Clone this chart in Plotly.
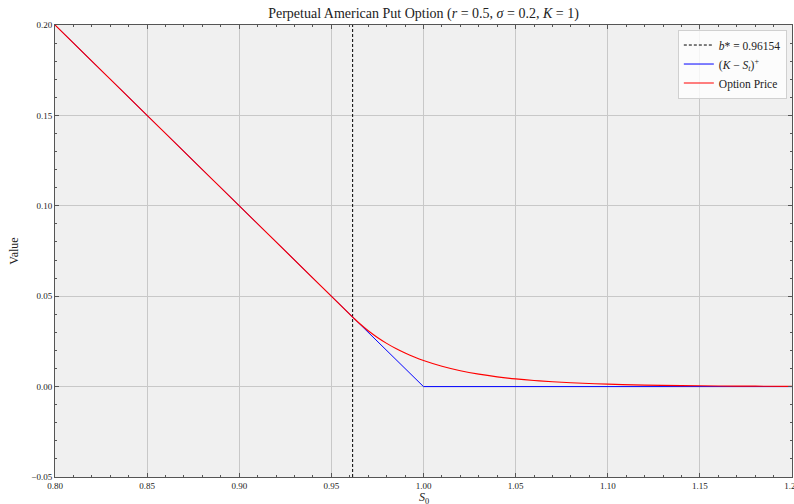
import plotly.graph_objects as go

# Data
b_star = 0.96154
payoff_s = [0.80, 1.00, 1.20]
payoff_v = [0.20, 0.00, 0.00]
price_s = [0.80, 0.96154, 0.965, 0.97, 0.975, 0.98, 0.985, 0.99, 0.995, 1.00, 1.01, 1.02,
           1.03, 1.04, 1.05, 1.06, 1.07, 1.08, 1.10, 1.12, 1.14, 1.16, 1.18, 1.20]
price_v = [0.20, 0.03846, 0.035157, 0.030896, 0.027170, 0.023908, 0.021052, 0.018549,
           0.016353, 0.014427, 0.011251, 0.008794, 0.006891, 0.005412, 0.004261, 0.003362,
           0.002658, 0.002107, 0.001332, 0.000849, 0.000545, 0.000353, 0.000230, 0.000151]
x_ticks = [0.80, 0.85, 0.90, 0.95, 1.00, 1.05, 1.10, 1.15, 1.20]
x_ticklabels = ["0.80", "0.85", "0.90", "0.95", "1.00", "1.05", "1.10", "1.15", "1.20"]
y_ticks = [-0.05, 0.00, 0.05, 0.10, 0.15, 0.20]
y_ticklabels = ["−0.05", "0.00", "0.05", "0.10", "0.15", "0.20"]
y_range = [-0.05, 0.20]
x_range = [0.80, 1.20]

FONT = "Liberation Serif"

fig = go.Figure()
fig.add_trace(go.Scatter(x=[b_star, b_star], y=y_range, mode="lines",
                         line=dict(color="black", width=1, dash="3px,2px"),
                         name="<i>b</i>* = 0.96154"))
fig.add_trace(go.Scatter(x=payoff_s, y=payoff_v, mode="lines",
                         line=dict(color="#0000ff", width=1),
                         name="(<i>K</i> − <i>S<sub>t</sub></i>)<sup>+</sup>"))
fig.add_trace(go.Scatter(x=price_s, y=price_v, mode="lines", line_shape="spline",
                         line=dict(color="#ff0000", width=1.15),
                         name="Option Price"))

axis_common = dict(
    showline=True, linecolor="#555555", linewidth=1, mirror="ticks",
    ticks="inside", ticklen=4, tickcolor="#555555", tickwidth=1,
    showgrid=True, gridcolor="#c8c8c8", gridwidth=1, zeroline=False,
    tickfont=dict(family=FONT, size=9, color="#222222"),
    ticklabeloverflow="allow", automargin=False,
    minor=dict(ticks="inside", ticklen=2, tickcolor="#555555", dtick=0.01, showgrid=False),
)

fig.update_layout(
    width=794, height=504,
    margin=dict(l=55, r=2, t=25, b=27),
    paper_bgcolor="white", plot_bgcolor="#f0f0f0",
    font=dict(family=FONT, size=12, color="#222222"),
    title=dict(text="Perpetual American Put Option (<i>r</i> = 0.5, <i>σ</i> = 0.2, <i>K</i> = 1)",
               x=0.5, xref="paper", xanchor="center", y=0.975, yanchor="middle",
               font=dict(family=FONT, size=14)),
    xaxis=dict(range=x_range, tickmode="array", tickvals=x_ticks, ticktext=x_ticklabels,
               ticklabelstandoff=0, **axis_common),
    yaxis=dict(range=y_range, tickmode="array", tickvals=y_ticks, ticktext=y_ticklabels,
               title=dict(text="Value", standoff=10, font=dict(size=12)),
               **axis_common),
    legend=dict(x=0.993, y=0.99, xanchor="right", yanchor="top",
                bgcolor="rgba(255,255,255,0.8)", bordercolor="#d0d0d0", borderwidth=1,
                font=dict(family=FONT, size=11.5), tracegroupgap=0, itemwidth=30),
    showlegend=True,
    annotations=[dict(text="<i>S</i><sub>0</sub>", x=0.5, xref="paper", y=-0.046, yref="paper",
                      xanchor="center", yanchor="middle", showarrow=False,
                      font=dict(family=FONT, size=12, color="#222222"))],
)

fig.write_html("out.html")
